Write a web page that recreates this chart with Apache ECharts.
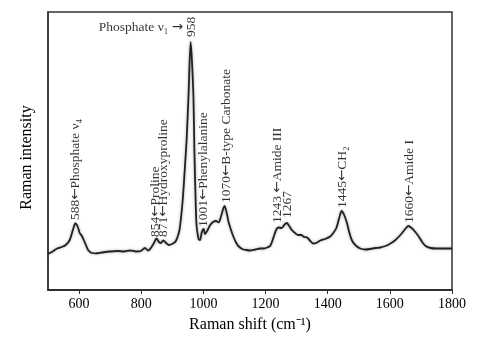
<!DOCTYPE html>
<html>
<head>
<meta charset="utf-8">
<script src="https://cdn.jsdelivr.net/npm/echarts@6/dist/echarts.min.js"></script>
<style>
  html, body { margin: 0; padding: 0; background: #fff; }
  #chart { width: 483px; height: 344px; }
</style>
</head>
<body>
<div id="chart"></div>
<script>
// Raman spectrum (arbitrary intensity units)
var shifts = [500, 512, 531, 544, 557, 570, 580, 588, 596, 602, 609, 615, 622, 629, 641, 654,
  673, 699, 725, 745, 764, 783, 799, 812, 822, 831, 841, 849, 857, 863, 871, 880, 889, 899,
  909, 913, 918, 923, 928, 934, 941, 946, 952, 959, 963, 968, 971, 975, 978, 984, 989, 995,
  1001, 1005, 1012, 1022, 1031, 1041, 1049, 1057, 1068, 1075, 1081, 1089, 1097, 1106, 1114,
  1125, 1138, 1150, 1167, 1183, 1196, 1205, 1215, 1226, 1234, 1241, 1252, 1260, 1268, 1276,
  1286, 1295, 1305, 1315, 1324, 1334, 1344, 1353, 1363, 1376, 1392, 1408, 1418, 1428, 1437,
  1445, 1453, 1462, 1470, 1479, 1492, 1505, 1521, 1537, 1553, 1569, 1586, 1602, 1618, 1634,
  1647, 1660, 1670, 1682, 1694, 1704, 1715, 1731, 1750, 1776, 1800];
var intensity = [36, 38, 41.7, 43, 45, 50, 60, 66.5, 63, 57, 54, 50, 45, 40, 37, 36.7,
  37.5, 38.5, 39, 38.5, 39.5, 38.5, 39, 42, 39.5, 42, 47, 51.5, 48, 47, 49.5, 47, 45, 46,
  48, 50, 54, 60, 72, 92, 125, 150, 193, 248, 230, 193, 140, 90, 65, 51.5, 50, 58,
  61, 56, 59, 65, 68, 69, 67.5, 74, 84, 77, 68, 60, 53, 47, 43.5,
  41, 40, 39.5, 40.5, 41.5, 41.5, 42.5, 44, 53, 60, 62.5, 62, 65, 67, 64,
  59.5, 57, 55, 55, 53, 52.5, 49, 46.5, 47, 49.5, 51, 53.5, 57, 62, 72,
  79, 75, 67, 57, 49, 44, 41.5, 40.5, 41, 42, 42.5, 44, 46.5, 50, 55,
  60, 64, 62, 58, 53, 48, 44, 42, 41.5, 41.5, 41.5];

var xTicks = [600, 800, 1000, 1200, 1400, 1600, 1800];

// peak annotations: text, anchor position, rotation
var annText = ['Phosphate ν₁ →', '958', '588←Phosphate ν₄', '854←Proline', '871←Hydroxyproline',
  '1001←Phenylalanine', '1070←B-type Carbonate', '1243 ←Amide III', '1267', '1445←CH₂', '1660←Amide I'];
var annX = [935, 963, 589, 846, 872, 1000, 1075, 1238, 1270, 1447, 1663];
var annY = [263, 253, 70, 53, 53, 63, 87, 67, 72, 82, 67];
var annRot = [0, 90, 90, 90, 90, 90, 90, 90, 90, 90, 90];

var serif = "'Liberation Serif', 'Times New Roman', serif";

var spectrum = shifts.map(function (s, i) { return [s, intensity[i]]; });
var notes = annText.map(function (t, i) {
    return {
        value: [annX[i], annY[i]],
        name: t,
        label: {
            rotate: annRot[i],
            align: annRot[i] ? 'left' : 'right',
            verticalAlign: 'middle'
        }
    };
});

var chart = echarts.init(document.getElementById('chart'));
chart.setOption({
    animation: false,
    grid: {
        left: 48, right: 31, top: 12, bottom: 54,
        show: true, borderColor: '#333', borderWidth: 1.5
    },
    xAxis: {
        type: 'value',
        min: 500,
        max: 1800,
        name: 'Raman shift (cm⁻¹)',
        nameLocation: 'middle',
        nameGap: 27,
        nameTextStyle: { fontFamily: serif, fontSize: 16, color: '#000' },
        splitLine: { show: false },
        axisLine: { show: true, lineStyle: { color: '#222', width: 1.5 } },
        axisTick: { show: true, length: 4, lineStyle: { color: '#333' }, customValues: xTicks },
        axisLabel: {
            fontFamily: serif, fontSize: 14, color: '#000', margin: 7, customValues: xTicks,
            formatter: function (v) { return String(v); }
        }
    },
    yAxis: {
        type: 'value',
        min: 0,
        max: 278,
        name: 'Raman intensity',
        nameLocation: 'middle',
        nameGap: 13,
        nameTextStyle: { fontFamily: serif, fontSize: 16, color: '#000', padding: [0, 13, 0, 0] },
        splitLine: { show: false },
        axisLine: { show: true, lineStyle: { color: '#333', width: 1.5 } },
        axisTick: { show: false },
        axisLabel: { show: false }
    },
    series: [{
        type: 'line',
        data: spectrum,
        symbol: 'none',
        smooth: 0.3,
        lineStyle: { color: '#222', width: 1.8, shadowBlur: 3, shadowColor: 'rgba(0,0,0,0.35)' }
    }, {
        type: 'scatter',
        data: notes,
        symbolSize: 0,
        silent: true,
        label: {
            show: true,
            position: 'inside',
            formatter: function (p) {
                return p.name.replace(/([←→])/g, '{ar|$1}');
            },
            fontFamily: serif,
            fontSize: 13.5,
            color: '#000',
            rich: {
                ar: { fontFamily: 'DejaVu Sans', fontSize: 13.5, color: '#000' }
            }
        }
    }]
});
</script>
</body>
</html>
